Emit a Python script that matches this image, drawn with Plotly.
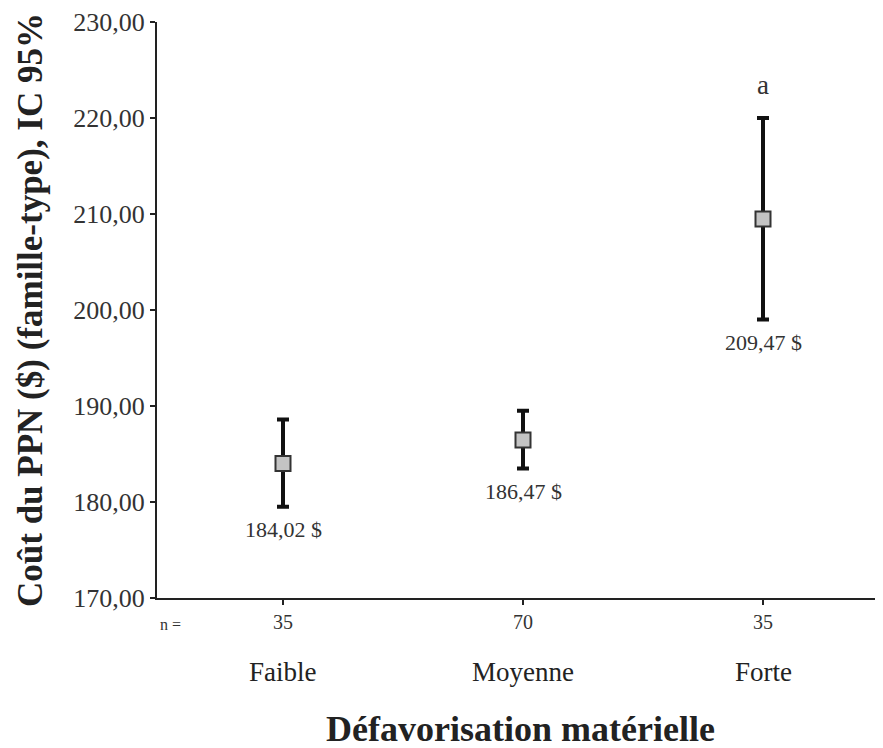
import plotly.graph_objects as go

categories = ["Faible", "Moyenne", "Forte"]
n_values = [35, 70, 35]
means = [184.02, 186.47, 209.47]
ci_lower = [179.5, 183.5, 199.0]
ci_upper = [188.6, 189.5, 220.0]
value_labels = ["184,02 $", "186,47 $", "209,47 $"]
sig_marks = ["", "", "a"]
y_ticks = [170, 180, 190, 200, 210, 220, 230]

FONT = "Liberation Serif, Times New Roman, serif"
x = list(range(len(categories)))
err_plus = [u - m for u, m in zip(ci_upper, means)]
err_minus = [m - l for m, l in zip(means, ci_lower)]

fig = go.Figure()
fig.add_trace(go.Scatter(
    x=x, y=means, mode="markers",
    marker=dict(symbol="square", size=15, color="#c4c4c4",
                line=dict(color="#333333", width=2)),
    error_y=dict(type="data", symmetric=False, array=err_plus, arrayminus=err_minus,
                 color="#111111", thickness=4, width=6),
    showlegend=False,
))

annotations = []
for i, (lab, lo) in enumerate(zip(value_labels, ci_lower)):
    annotations.append(dict(x=i, y=lo, xref="x", yref="y", text=lab, showarrow=False,
                            yanchor="middle", yshift=-23,
                            font=dict(family=FONT, size=22, color="#333")))
for i, (s, hi) in enumerate(zip(sig_marks, ci_upper)):
    if s:
        annotations.append(dict(x=i, y=hi, xref="x", yref="y", text=s, showarrow=False,
                                yanchor="middle", yshift=33,
                                font=dict(family=FONT, size=27, color="#333")))
for i, c in enumerate(categories):
    annotations.append(dict(x=i, y=0, xref="x", yref="paper", text=c, showarrow=False,
                            yanchor="middle", yshift=-74,
                            font=dict(family=FONT, size=27, color="#222")))
annotations.append(dict(x=-0.47, y=0, xref="x", yref="paper", text="n =", showarrow=False,
                        yanchor="middle", yshift=-26,
                        font=dict(family=FONT, size=16, color="#333")))
annotations.append(dict(x=0.5, y=0, xref="paper", yref="paper",
                        text="<b>Défavorisation matérielle</b>", showarrow=False,
                        yanchor="middle", yshift=-131,
                        font=dict(family=FONT, size=36, color="#222")))
annotations.append(dict(x=0, y=0.5, xref="paper", yref="paper",
                        text="<b>Coût du PPN ($) (famille-type), IC 95%</b>", showarrow=False,
                        textangle=-90, xanchor="center", yanchor="middle", xshift=-127,
                        font=dict(family=FONT, size=35, color="#222")))

fig.update_layout(
    width=883, height=748,
    margin=dict(l=149, r=8, t=14, b=158),
    paper_bgcolor="white", plot_bgcolor="white",
    separators=", ",
    font=dict(family=FONT, color="#222"),
    annotations=annotations,
    xaxis=dict(
        range=[-0.525, 2.5], tickvals=x, ticktext=[str(n) for n in n_values],
        showgrid=False, zeroline=False, showline=True, linecolor="#222", linewidth=2,
        ticks="outside", ticklen=5, tickwidth=2, tickcolor="#222", automargin=False,
        tickfont=dict(family=FONT, size=20, color="#333"), ticklabeloverflow="allow",
    ),
    yaxis=dict(
        range=[170, 230], tickvals=y_ticks, tickformat=".2f",
        showgrid=False, zeroline=False, showline=True, linecolor="#222", linewidth=2,
        ticks="outside", ticklen=5, tickwidth=2, tickcolor="#222", automargin=False,
        tickfont=dict(family=FONT, size=26, color="#333"), ticklabeloverflow="allow",
    ),
)

fig.write_html("out.html")
